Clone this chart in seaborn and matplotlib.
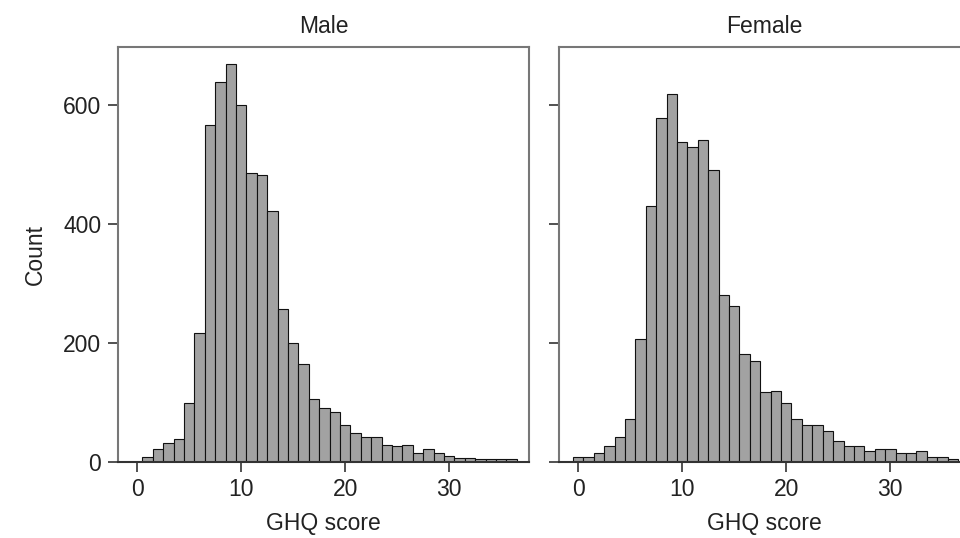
import numpy as np
import pandas as pd
import matplotlib
matplotlib.use("Agg")
import matplotlib.pyplot as plt
import seaborn as sns

# GHQ score (0-36) and counts per score
scores = list(range(0, 37))
male_counts = [0, 8, 21, 32, 38, 98, 217, 566, 638, 669, 599, 485, 482, 421,
               256, 199, 165, 105, 91, 83, 62, 48, 41, 41, 28, 27, 28, 14,
               21, 14, 10, 7, 7, 4, 4, 4, 4]
female_counts = [8, 8, 15, 27, 42, 72, 206, 429, 577, 618, 537, 529, 540, 490,
                 280, 261, 181, 169, 117, 118, 99, 72, 61, 61, 52, 35, 27, 27,
                 18, 21, 21, 14, 14, 18, 8, 8, 4]
panels = ["Male", "Female"]

df = pd.concat([
    pd.DataFrame({"score": scores, "count": male_counts, "sex": "Male"}),
    pd.DataFrame({"score": scores, "count": female_counts, "sex": "Female"}),
])

sns.set_theme(style="white")
plt.rcParams["font.family"] = ["Liberation Sans", "DejaVu Sans"]

fig = plt.figure(figsize=(9.6, 5.38), dpi=100)
ax_w, ax_h = 0.428, 0.771
lefts = [0.1229, 0.5823]
axes = [fig.add_axes([l, 0.1418, ax_w, ax_h]) for l in lefts]

for ax, sex in zip(axes, panels):
    sub = df[df["sex"] == sex]
    sns.histplot(data=sub, x="score", weights="count", discrete=True,
                 color="#a2a2a2", edgecolor="#111111", linewidth=0.8,
                 alpha=1, ax=ax)
    ax.set_xlim(-1.85, 37.65)
    ax.set_ylim(0, 697)
    ax.set_xticks([0, 10, 20, 30])
    ax.set_yticks([0, 200, 400, 600])
    ax.set_title(sex, fontsize=16.5, pad=10, color="#222222")
    ax.set_xlabel("GHQ score", fontsize=16.5, labelpad=8, color="#222222")
    ax.tick_params(axis="both", direction="out", length=7, width=1.2,
                   color="#333333", labelsize=16.5, labelcolor="#222222",
                   bottom=True, left=True, pad=5)
    for s in ax.spines.values():
        s.set_color("#777777")
        s.set_linewidth(1.5)
        s.set_visible(True)
    ax.spines["bottom"].set_color("#333333")

axes[0].set_ylabel("Count", fontsize=16.5, labelpad=12, color="#222222")
axes[1].set_ylabel("")
axes[1].tick_params(axis="y", labelleft=False)

fig.savefig("out.png", dpi=100, facecolor="white")
